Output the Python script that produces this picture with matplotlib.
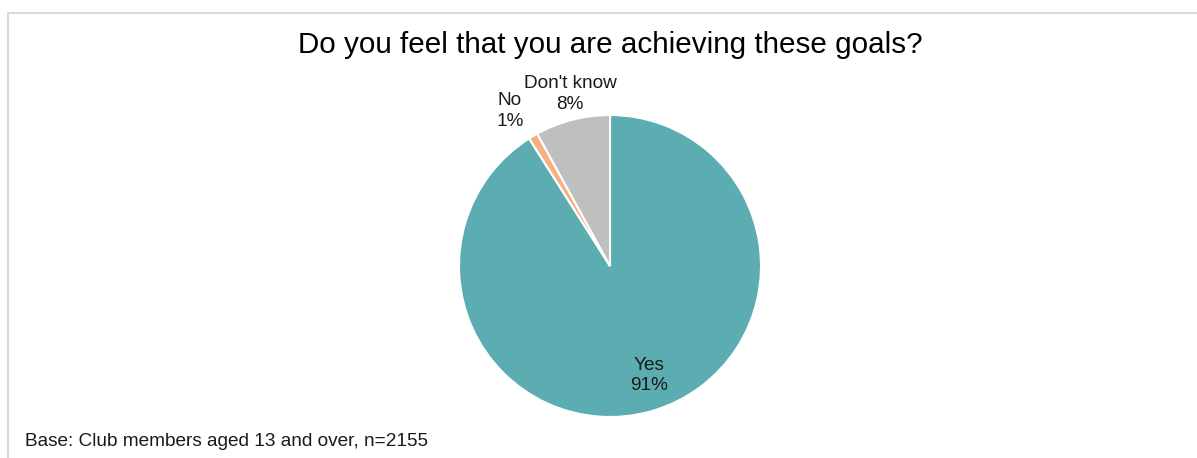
import numpy as np
import matplotlib.pyplot as plt
from matplotlib.patches import Rectangle

plt.rcParams['font.family'] = ['Liberation Sans', 'DejaVu Sans']

# survey answers
answers = ["Yes", "No", "Don't know"]
shares = [91, 1, 8]
colors = ['#5BADB1', '#F4B183', '#BFBFBF']

# label placement: radius (in pie radii) and a small angular nudge in degrees
label_dist = [0.77, 1.22, 1.17]
label_nudge = [3.5, 2.3, -1.3]

W, H = 1197, 458
fig = plt.figure(figsize=(W / 100, H / 100), dpi=100)

# light grey chart frame (top and left edges show)
fig.patches.append(Rectangle((8 / W, -0.1), 1.2, (H - 13) / H + 0.1,
                             transform=fig.transFigure, fill=False,
                             edgecolor='#D9D9D9', linewidth=1.5))

cx, cy, r = 610, 266, 151
ax = fig.add_axes([(cx - r) / W, (H - cy - r) / H, 2 * r / W, 2 * r / H])
wedges, _ = ax.pie(shares, colors=colors, startangle=90, counterclock=False,
                   radius=1, wedgeprops=dict(edgecolor='white', linewidth=1.5))
ax.set_xlim(-1, 1)
ax.set_ylim(-1, 1)
ax.set_aspect('equal')
ax.axis('off')

for w, name, val, d, nudge in zip(wedges, answers, shares, label_dist, label_nudge):
    mid = np.deg2rad((w.theta1 + w.theta2) / 2 + nudge)
    ax.text(d * np.cos(mid), d * np.sin(mid), f"{name}\n{val}%",
            ha='center', va='center', fontsize=13.7, color='#1a1a1a',
            linespacing=1.3, clip_on=False)

fig.text(610 / W, 1 - 45 / H, "Do you feel that you are achieving these goals?",
         ha='center', va='center', fontsize=21.3, color='#000000')
fig.text(25 / W, 1 - 441 / H, "Base: Club members aged 13 and over, n=2155",
         ha='left', va='center', fontsize=13.7, color='#1a1a1a')

fig.savefig('out.png', dpi=100)
